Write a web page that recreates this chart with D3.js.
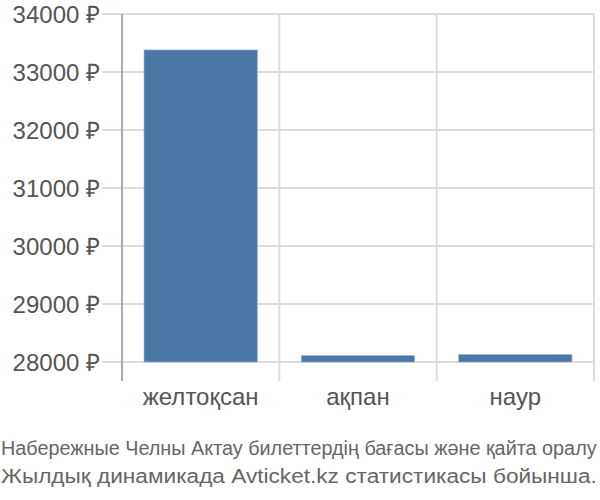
<!DOCTYPE html>
<html>
<head>
<meta charset="utf-8">
<script src="https://cdn.jsdelivr.net/npm/d3@7"></script>
<style>
  body { margin: 0; background: #fff; }
</style>
</head>
<body>
<div id="chart"></div>
<script>
const months = ["желтоқсан", "ақпан", "наур"];
const prices = [33380, 28110, 28128];
const yTicks = [28000, 29000, 30000, 31000, 32000, 33000, 34000];
const footerLines = [
    "Набережные Челны Актау билеттердің бағасы және қайта оралу",
    "Жылдық динамикада Avticket.kz статистикасы бойынша."
];

const W = 600, H = 500;
const m = { left: 122, right: 6, top: 14, bottom: 138 };
const FONT = "'Liberation Sans', Arial, sans-serif";

const svg = d3.select("#chart").append("svg")
    .attr("width", W)
    .attr("height", H);

const x = d3.scaleBand()
    .domain(months)
    .range([m.left, W - m.right])
    .paddingInner(0.28)
    .paddingOuter(0.14);

const y = d3.scaleLinear()
    .domain([28000, 34000])
    .range([H - m.bottom, m.top]);

// horizontal grid
svg.append("g")
    .selectAll("line")
    .data(yTicks)
    .enter()
    .append("line")
    .attr("x1", m.left - 20)
    .attr("x2", W - m.right)
    .attr("y1", d => y(d))
    .attr("y2", d => y(d))
    .attr("stroke", "#ddd")
    .attr("stroke-width", 2);

// vertical grid at band edges
const step = x.step();
const edges = months.map((d, i) => m.left + step * (i + 1));
svg.append("g")
    .selectAll("line")
    .data(edges)
    .enter()
    .append("line")
    .attr("x1", d => d)
    .attr("x2", d => d)
    .attr("y1", m.top)
    .attr("y2", H - m.bottom + 19)
    .attr("stroke", "#ddd")
    .attr("stroke-width", 2);

// bars
svg.append("g")
    .selectAll("rect")
    .data(months)
    .enter()
    .append("rect")
    .attr("x", d => x(d))
    .attr("width", x.bandwidth())
    .attr("y", (d, i) => y(prices[i]))
    .attr("height", (d, i) => y(28000) - y(prices[i]))
    .attr("fill", "#4c78a8")
    .attr("stroke", "#8fb0d4")
    .attr("stroke-width", 0.6);

// y axis line
svg.append("line")
    .attr("x1", m.left)
    .attr("x2", m.left)
    .attr("y1", m.top)
    .attr("y2", H - m.bottom + 19)
    .attr("stroke", "#aaa")
    .attr("stroke-width", 2);

// y labels
svg.append("g")
    .selectAll("text")
    .data(yTicks)
    .enter()
    .append("text")
    .attr("x", m.left - 22)
    .attr("y", d => y(d))
    .attr("dy", "0.36em")
    .attr("text-anchor", "end")
    .attr("font-family", FONT)
    .attr("font-size", "24px")
    .attr("fill", "#555")
    .text(d => d + " ₽");

// x labels
svg.append("g")
    .selectAll("text")
    .data(months)
    .enter()
    .append("text")
    .attr("x", d => x(d) + x.bandwidth() / 2)
    .attr("y", 405)
    .attr("text-anchor", "middle")
    .attr("font-family", FONT)
    .attr("font-size", "24px")
    .attr("fill", "#555")
    .text(d => d);

// footer: squeeze each line horizontally so it fits the width
svg.append("g")
    .selectAll("text")
    .data(footerLines)
    .enter()
    .append("text")
    .attr("x", 0)
    .attr("y", 0)
    .attr("font-family", FONT)
    .attr("font-size", "21px")
    .attr("fill", "#666")
    .text(d => d)
    .each(function (d, i) {
        const len = this.getComputedTextLength();
        const k = 596 / len;
        d3.select(this).attr("transform", `translate(1,${455 + i * 28}) scale(${k},1)`);
    });
</script>
</body>
</html>
